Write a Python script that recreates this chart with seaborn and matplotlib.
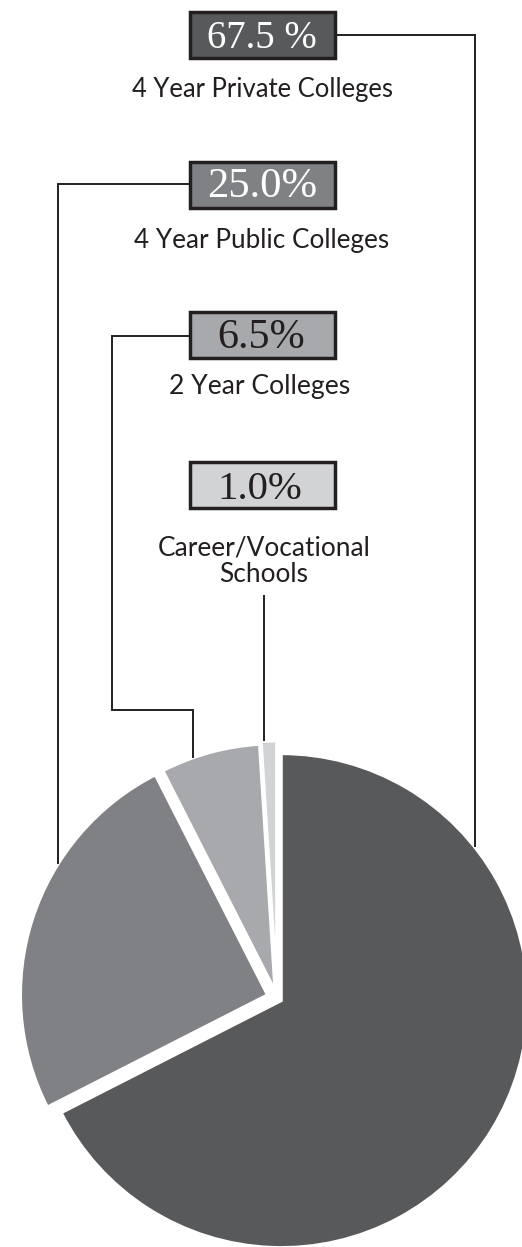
import numpy as np
import matplotlib
matplotlib.use("Agg")
import matplotlib.pyplot as plt
import seaborn as sns
from matplotlib.patches import Rectangle

# ---------------- data ----------------
categories = ["4 Year Private Colleges", "4 Year Public Colleges",
              "2 Year Colleges", "Career/Vocational\nSchools"]
shares = [67.5, 25.0, 6.5, 1.0]
pct_labels = ["67.5 %", "25.0%", "6.5%", "1.0%"]
slice_colors = ["#58595b", "#808184", "#a7a9ac", "#d1d3d4"]
pct_text_colors = ["white", "white", "#231f20", "#231f20"]

# ---------------- layout ----------------
W, H = 522, 1247
sns.set_theme(style="white")
plt.rcParams["font.family"] = ["Lato", "DejaVu Sans"]

fig = plt.figure(figsize=(W / 100, H / 100), dpi=100)
ax = fig.add_axes([0, 0, 1, 1])

def Y(y_img):
    return H - y_img

pie_center = (277, Y(998))
pie_radius = 247
explode = [5, 10, 7.5, 10]   # offsets in pixels (data units)

wedges, _ = ax.pie(shares, colors=sns.color_palette(slice_colors), startangle=90,
                   counterclock=False, explode=explode, center=pie_center,
                   radius=pie_radius,
                   wedgeprops=dict(edgecolor="white", linewidth=2.2))
ax.set_xlim(0, W)
ax.set_ylim(0, H)
ax.set_aspect("equal")
ax.axis("off")

renderer = fig.canvas.get_renderer()

def fit_text(x, y, s, width, base=20, **kw):
    t = ax.text(x, y, s, fontsize=base, **kw)
    bb = t.get_window_extent(renderer)
    t.set_fontsize(base * width / bb.width)
    return t

# boxes
box_x0, box_w, box_h = 190, 145, 46
box_tops = [12, 162, 312, 462]
pct_widths = [110, 110, 88, 85]
pct_x = [262, 262, 261, 260]
pct_base = [48, 197, 348, 499]
label_base = [97, 248, 394, 548]
label_widths = [261, 256, 181, 212]

for i in range(4):
    top = box_tops[i]
    ax.add_patch(Rectangle((box_x0, Y(top + box_h)), box_w, box_h,
                           facecolor=slice_colors[i], edgecolor="#231f20",
                           linewidth=2.5, zorder=3))
    fit_text(pct_x[i], Y(pct_base[i]), pct_labels[i], pct_widths[i],
             ha="center", va="baseline", color=pct_text_colors[i],
             family=["Liberation Serif"], zorder=4)

# labels
fit_text(262, Y(label_base[0]), categories[0], label_widths[0],
         ha="center", va="baseline", color="#231f20")
fit_text(262, Y(label_base[1]), categories[1], label_widths[1],
         ha="center", va="baseline", color="#231f20")
fit_text(260, Y(label_base[2]), categories[2], label_widths[2],
         ha="center", va="baseline", color="#231f20")
fit_text(264, Y(561), categories[3], label_widths[3],
         ha="center", va="center", color="#231f20", linespacing=1.05)

# leader lines, ending on the wedge arcs
def arc_y(w, x):
    cx, cy = w.center
    return cy + np.sqrt(max(w.r ** 2 - (x - cx) ** 2, 0))

lc = dict(color="#231f20", linewidth=1.4, zorder=2, solid_capstyle="butt",
          solid_joinstyle="miter")

# 67.5 %
x_r = 475
ax.plot([box_x0 + box_w, x_r, x_r], [Y(35), Y(35), arc_y(wedges[0], x_r)], **lc)
# 25.0 %
x_l = 58
ax.plot([box_x0, x_l, x_l], [Y(184), Y(184), arc_y(wedges[1], x_l)], **lc)
# 6.5 %
x_a, x_b = 112, 193
ax.plot([box_x0, x_a, x_a, x_b, x_b],
        [Y(336), Y(336), Y(710), Y(710), arc_y(wedges[2], x_b)], **lc)
# 1.0 %
x_c = 264
ax.plot([x_c, x_c], [Y(595), arc_y(wedges[3], x_c)], **lc)

fig.savefig("out.png", dpi=100, facecolor="white")
